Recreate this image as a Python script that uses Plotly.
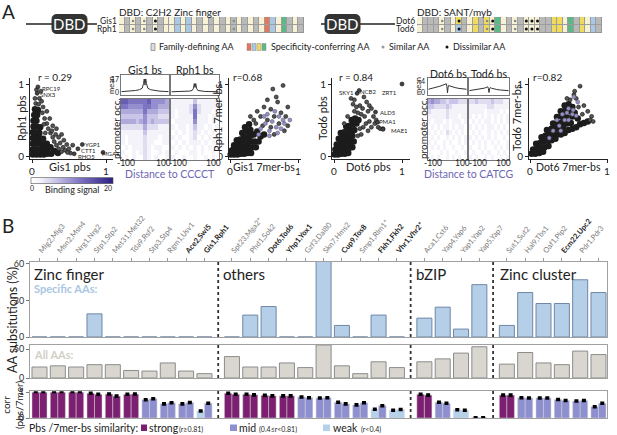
import plotly.graph_objects as go

W, H = 617, 435
FONT = "Lato"

# ======================= DATA =======================
# --- Panel A: DBD schematics (cell indices along alignment) ---
c2h2_n = 33
c2h2_grey = [1, 3, 5, 7, 14, 16, 18, 20, 22, 24, 30, 32]
c2h2_blue = [10, 12, 27]
c2h2_red = [26]
c2h2_yellow = []
c2h2_green = [29]
c2h2_similar = [2, 4, 20]
c2h2_dissimilar = [6]

sant_n = 33
sant_grey = [1, 2, 3, 5, 8, 11, 16, 18, 22, 23, 28, 32]
sant_blue = [31]
sant_red = []
sant_yellow = [7, 10, 12, 24, 25, 29]
sant_green = [14, 27]
sant_tod6_blue = [7]
sant_similar = [4, 12, 17]
sant_dissimilar = [7, 13, 19, 20, 21]

# --- Panel A: scatter plots (dense cores + scattered points) ---
a1_core_x = [0.01,0.06,0.11,0.16,0.21,0.26,0.01,0.06,0.11,0.16,0.21,0.30,0.01,0.05,0.10,0.15,0.20,0.01,0.05,0.10,0.15,0.01,0.05,0.10,0.02,0.06,0.11,0.02,0.06,0.03,0.07,0.04,0.08,0.35,0.25]
a1_core_y = [0.02,0.02,0.02,0.02,0.03,0.03,0.09,0.09,0.09,0.09,0.10,0.07,0.17,0.17,0.17,0.16,0.17,0.25,0.25,0.25,0.24,0.33,0.33,0.32,0.41,0.41,0.40,0.49,0.49,0.57,0.57,0.65,0.64,0.04,0.12]
a1_pts_x = [0.05,0.09,0.04,0.10,0.13,0.12,0.06,0.15,0.14,0.17,0.20,0.16,0.22,0.25,0.18,0.28,0.30,0.33,0.36,0.40,0.38,0.42,0.45,0.47,0.50,0.52,0.28,0.32,0.36,0.43,0.48,0.24,0.20,0.33,0.40,0.55,0.27]
a1_pts_y = [0.73,0.72,0.80,0.80,0.76,0.90,0.92,0.68,0.60,0.52,0.45,0.44,0.38,0.32,0.32,0.26,0.20,0.15,0.10,0.06,0.18,0.12,0.08,0.16,0.10,0.04,0.42,0.30,0.26,0.22,0.05,0.52,0.62,0.38,0.30,0.15,0.35]
a1_genes = ["RPC19", "SNX3", "YGP1", "CTT1", "RHO5", "MGA1"]
a1_gene_x = [0.08, 0.07, 0.68, 0.62, 0.57, 0.96]
a1_gene_y = [0.96, 0.87, 0.16, 0.10, 0.03, 0.05]

a2_core_x = [0.01,0.06,0.11,0.16,0.21,0.26,0.31,0.03,0.08,0.13,0.18,0.23,0.28,0.33,0.38,0.06,0.11,0.16,0.21,0.26,0.31,0.36,0.42,0.10,0.15,0.20,0.25,0.30,0.35,0.45,0.18,0.24,0.30,0.40,0.50,0.22,0.28]
a2_core_y = [0.02,0.02,0.02,0.03,0.03,0.04,0.04,0.08,0.08,0.09,0.10,0.10,0.11,0.12,0.12,0.15,0.15,0.16,0.17,0.18,0.20,0.20,0.20,0.22,0.23,0.25,0.26,0.28,0.30,0.27,0.32,0.34,0.36,0.34,0.30,0.40,0.44]
a2_pts_x = [0.78,0.63,0.55,0.70,0.50,0.60,0.40,0.45,0.75,0.82,0.65,0.35,0.55,0.72,0.85,0.60,0.38,0.48,0.80,0.65,0.30,0.68,0.85]
a2_pts_y = [0.98,0.93,0.78,0.75,0.68,0.65,0.62,0.55,0.60,0.55,0.55,0.50,0.50,0.45,0.42,0.40,0.45,0.42,0.35,0.30,0.55,0.82,0.68]
a2_lav_x = [0.45,0.52,0.58,0.62,0.68,0.75,0.80,0.72,0.55,0.42,0.50,0.66,0.78,0.58,0.88,0.70]
a2_lav_y = [0.38,0.45,0.35,0.48,0.40,0.38,0.45,0.55,0.58,0.30,0.55,0.62,0.50,0.28,0.50,0.32]

a3_core_x = [0.01,0.06,0.11,0.16,0.21,0.02,0.07,0.12,0.17,0.22,0.27,0.04,0.09,0.14,0.19,0.24,0.29,0.07,0.12,0.17,0.22,0.27,0.10,0.15,0.20,0.25,0.30,0.18,0.23,0.28,0.33,0.26,0.31,0.36]
a3_core_y = [0.02,0.02,0.03,0.03,0.04,0.09,0.09,0.10,0.10,0.11,0.12,0.16,0.17,0.17,0.18,0.19,0.20,0.24,0.25,0.25,0.26,0.28,0.32,0.33,0.33,0.35,0.36,0.41,0.42,0.44,0.45,0.50,0.52,0.50]
a3_pts_x = [0.35,0.30,0.40,0.42,0.38,0.33,0.28,0.45,0.50,0.52,0.48,0.55,0.58,0.47,0.52,0.43,0.38,0.60,0.65,0.68,0.62,0.25,0.30,0.44,0.20,0.15,0.40,0.35,0.55,0.72,0.50]
a3_pts_y = [0.60,0.62,0.58,0.66,0.70,0.68,0.72,0.55,0.62,0.70,0.75,0.66,0.55,0.45,0.48,0.40,0.38,0.45,0.40,0.38,0.50,0.80,0.78,0.82,0.55,0.45,0.30,0.28,0.40,0.38,0.35]
a3_genes = ["SKY1", "NCB2", "ZRT1", "ALD5", "PMA1", "MAE1"]
a3_gene_x = [0.34, 0.37, 1.00, 0.61, 0.64, 0.72]
a3_gene_y = [0.87, 0.91, 1.00, 0.61, 0.47, 0.37]

a4_core_x = [0.02,0.07,0.12,0.17,0.04,0.09,0.14,0.19,0.24,0.08,0.13,0.18,0.23,0.28,0.33,0.15,0.20,0.25,0.30,0.35,0.40,0.45,0.22,0.28,0.33,0.38,0.43,0.50,0.55,0.60,0.30,0.36,0.42,0.48,0.53,0.65,0.70,0.75,0.35,0.41,0.47,0.55,0.62,0.40,0.46,0.52,0.58,0.45,0.50,0.55]
a4_core_y = [0.03,0.03,0.04,0.06,0.09,0.10,0.10,0.12,0.14,0.17,0.18,0.20,0.22,0.22,0.24,0.26,0.28,0.30,0.30,0.30,0.30,0.32,0.36,0.38,0.38,0.38,0.40,0.36,0.38,0.40,0.45,0.46,0.47,0.45,0.46,0.44,0.46,0.48,0.54,0.55,0.54,0.55,0.52,0.62,0.63,0.62,0.60,0.70,0.72,0.68]
a4_pts_x = [0.65,0.57,0.60,0.52,0.70,0.75,0.80,0.78,0.82,0.68,0.63,0.48,0.58]
a4_pts_y = [0.97,0.85,0.80,0.78,0.70,0.62,0.55,0.50,0.48,0.58,0.68,0.80,0.90]
a4_lav_x = [0.30,0.38,0.45,0.50,0.55,0.42,0.35,0.60,0.62,0.50,0.48,0.25,0.40,0.56,0.57]
a4_lav_y = [0.35,0.42,0.50,0.50,0.58,0.58,0.50,0.56,0.75,0.66,0.60,0.25,0.35,0.64,0.82]

# --- Panel A: mean binding profiles and occupancy heatmaps ---
dist_prof = [-125, -100, -75, -50, -30, -15, -8, -4, 0, 4, 8, 15, 30, 50, 75, 100, 125]
gis1_mean = [0.5, 0.8, 1.2, 2, 3, 5, 11, 17, 9, 17, 11, 5, 3, 2, 1.2, 0.8, 0.5]
rph1_mean = [0.3, 0.4, 0.6, 0.8, 1.2, 2, 5, 11, 6, 11, 5, 2, 1.2, 0.8, 0.6, 0.4, 0.3]
dot6_mean = [1.0, 1.3, 1.7, 2.1, 2.5, 2.8, 3.0, 2.0, -0.3, 1.8, 2.4, 2.2, 1.9, 1.6, 1.3, 1.1, 1.0]
tod6_mean = [0.5, 0.7, 0.9, 1.1, 1.4, 1.7, 1.9, 1.3, -0.2, 1.2, 1.6, 1.4, 1.1, 0.9, 0.7, 0.6, 0.5]

heat_cols = [-120, -100, -80, -60, -40, -20, 0, 20, 40, 60, 80, 100, 120]
gis1_heat_rows = ["7766666755554", "6655556655444", "4444446444333", "3333335333222",
                  "4444345343333", "2222224222111", "1111113111111", "1011112111011",
                  "1011112110011", "0101112101100", "1001012100101", "0101002101001"]
rph1_heat_rows = ["1111113111111", "1111125211111", "1011126211101", "1011116111011",
                  "0111115111010", "1011013110101", "0101012101010", "1010012010101",
                  "0101011101010", "1010101010101", "0100011010010", "1001001001010"]
dot6_heat_rows = ["4544332333222", "3322223211111", "2111112111111", "1111112111011",
                  "1011101011101", "0101011010110", "1010102101010", "0101001010101",
                  "1010010100101", "0101010010010", "1000101001001", "0101001010100"]
tod6_heat_rows = ["2232222322211", "1111112211111", "1111101111010", "1010101010101",
                  "0101011010101", "1010101101010", "0101001010101", "1010101010010",
                  "0101010101001", "1001010010101", "0100101001010", "1010010100101"]

# --- Panel B ---
tf_pairs = ["Mig2,Mig3", "Msn2,Msn4", "Nrg1,Nrg2", "Stp1,Stp2", "Met31,Met32", "Tda9,Rsf2",
            "Stp3,Stp4", "Rgm1,Usv1", "Ace2,Swi5", "Gis1,Rph1",
            "Spt23,Mga2*", "Phd1,Sok2", "Dot6,Tod6", "Yhp1,Yox1", "Gzf3,Dal80", "Skn7,Hms2",
            "Cup9,Tos8", "Smp1,Rlm1*", "Fkh1,Fkh2", "Vhr1,Vhr2*",
            "Aca1,Cst6", "Yap4,Yap6", "Yap1,Yap2", "Yap5,Yap7",
            "Sut1,Sut2", "Hal9,Tbs1", "Oaf1,Pip2", "Ecm22,Upc2", "Pdr1,Pdr3", "Pdr8,Yrr1"]
tf_bold = ["Ace2,Swi5", "Gis1,Rph1", "Dot6,Tod6", "Yhp1,Yox1", "Cup9,Tos8", "Fkh1,Fkh2",
           "Vhr1,Vhr2*", "Ecm22,Upc2", "Pdr8,Yrr1"]
families = ["Zinc finger", "others", "bZIP", "Zinc cluster"]
family_sizes = [10, 10, 4, 6]
specific_aa = [0, 0, 0, 19, 0, 0, 0, 0, 0, 0,
               0, 18, 25, 0, 0, 62, 9.5, 0, 18, 0,
               15.5, 24.5, 6.5, 43,
               9.5, 36.5, 27.5, 27.5, 47, 36.5]
all_aa = [19, 21, 19, 23, 23, 13, 12, 26, 12, 7.5,
          37, 19, 19, 26, 18, 57, 21, 7.5, 28, 18,
          28, 33, 43, 54,
          24, 44, 26, 23, 46.5, 40.5]
corr_pbs = [1.0, 1.0, 1.0, 0.96, 0.93, 0.92, 0.71, 0.55, 0.55, 0.27,
            0.96, 0.92, 0.88, 0.86, 0.82, 0.78, 0.61, 0.51, 0.34, 0.30,
            0.92, 0.61, 0.32, 0.02,
            0.89, 0.79, 0.78, 0.72, 0.66, 0.44]
corr_7mer = [1.0, 1.0, 1.0, 0.92, 0.85, 0.93, 0.75, 0.59, 0.60, 0.57,
             0.92, 0.90, 0.86, 0.86, 0.79, 0.79, 0.55, 0.59, 0.48, 0.33,
             0.89, 0.57, 0.30, 0.02,
             0.89, 0.78, 0.78, 0.68, 0.68, 0.57]
corr_err = [0, 0, 0, 0.03, 0.03, 0.03, 0.03, 0.03, 0.03, 0.03,
            0.03, 0.03, 0.03, 0.03, 0.03, 0.03, 0.03, 0.03, 0.03, 0.03,
            0.03, 0.03, 0.03, 0.02,
            0.03, 0.03, 0.03, 0.03, 0.03, 0.03]
sim_pbs = list("ssssssmmmw" + "ssssmmmmww" + "smwm" + "smmmmm")
sim_7mer = list("ssssssmmmm" + "ssssmmmmmw" + "smwm" + "smmmmm")

# ======================= FIGURE =======================
fig = go.Figure()
layout = {}
ann = []
shapes = []


def X(p):
    return p / W


def Y(p):
    return 1 - p / H


def lin(L, R, p0, v0, p1, v1):
    s = (v1 - v0) / (p1 - p0)
    return [v0 + (L - p0) * s, v0 + (R - p0) * s]


def axis_pair(n, xpx, ypx, xr, yr, xkw=None, ykw=None):
    s = '' if n == 1 else str(n)
    base = dict(showgrid=False, zeroline=False, showticklabels=False, ticks='',
                showline=False, fixedrange=True, automargin=False)
    xa = dict(base, domain=[X(xpx[0]), X(xpx[1])], range=xr, anchor='y' + s)
    ya = dict(base, domain=[Y(ypx[1]), Y(ypx[0])], range=yr, anchor='x' + s)
    if xkw:
        xa.update(xkw)
    if ykw:
        ya.update(ykw)
    layout['xaxis' + s] = xa
    layout['yaxis' + s] = ya
    return 'x' + s, 'y' + s


def text(x, y, s, size=10, color='#222', xa='center', ya='middle', angle=0, bold=False):
    if bold:
        s = '<b>' + s + '</b>'
    ann.append(dict(x=X(x), y=Y(y), xref='paper', yref='paper', text=s, showarrow=False,
                    font=dict(size=size, color=color, family=FONT), xanchor=xa, yanchor=ya,
                    textangle=angle, borderpad=0))


def rect(x0, y0, x1, y1, fill, line=None, lw=0):
    shapes.append(dict(type='rect', xref='paper', yref='paper', x0=X(x0), x1=X(x1),
                       y0=Y(y1), y1=Y(y0), fillcolor=fill,
                       line=dict(color=line or fill, width=lw)))


def hline(x0, x1, y, color='#222', width=1.3):
    shapes.append(dict(type='line', xref='paper', yref='paper', x0=X(x0), x1=X(x1),
                       y0=Y(y), y1=Y(y), line=dict(color=color, width=width)))


def rrect(x0, y0, x1, y1, r, fill):
    rx, ry = r / W, r / H
    a, b, c, d = X(x0), X(x1), Y(y1), Y(y0)
    path = (f"M {a+rx},{d} L {b-rx},{d} Q {b},{d} {b},{d-ry} L {b},{c+ry} Q {b},{c} {b-rx},{c} "
            f"L {a+rx},{c} Q {a},{c} {a},{c+ry} L {a},{d-ry} Q {a},{d} {a+rx},{d} Z")
    shapes.append(dict(type='path', xref='paper', yref='paper', path=path, fillcolor=fill,
                       line=dict(color=fill, width=1)))


# ---------- Panel A: schematics ----------
cell_colors = ['#f7f2d5', '#b9b9b9', '#a9c8e6', '#e8765b', '#efdc5a', '#5db889']
cs_cells = []
for i, c in enumerate(cell_colors):
    cs_cells += [[i / len(cell_colors), c], [(i + 1) / len(cell_colors), c]]


def schem_row(n, grey, blue, red, yellow, green):
    row = [0] * n
    for code, idx in [(1, grey), (2, blue), (3, red), (4, yellow), (5, green)]:
        for i in idx:
            row[i] = code
    return row


def schematic(n_ax, xpx, n, grey, blue, red, yellow, green, similar, dissimilar,
              bottom_override=None, name_top='', name_bot='', title='', x_line0=0, x_box=(0, 0),
              x_line1=0):
    top = schem_row(n, grey, blue, red, yellow, green)
    bot = list(top)
    if bottom_override:
        for i in bottom_override:
            bot[i] = 2
    xa, ya = axis_pair(n_ax, xpx, (17, 33), [-0.5, n - 0.5], [-0.5, 1.5])
    shapes.append(dict(type='rect', xref=xa, yref=ya, x0=-0.5, x1=n - 0.5, y0=-0.5, y1=1.5,
                       fillcolor='#9d9d9d', line=dict(color='#8a8a8a', width=0.8), layer='below'))
    fig.add_trace(go.Heatmap(z=[bot, top], x=list(range(n)), y=[0, 1], colorscale=cs_cells,
                             zmin=-0.5, zmax=len(cell_colors) - 0.5, showscale=False, xgap=1,
                             ygap=1, xaxis=xa, yaxis=ya, hoverinfo='skip'))
    fig.add_trace(go.Scatter(x=similar * 2, y=[0] * len(similar) + [1] * len(similar),
                             mode='markers', marker=dict(size=2.6, color='#8a8a8a'),
                             xaxis=xa, yaxis=ya, hoverinfo='skip'))
    fig.add_trace(go.Scatter(x=dissimilar * 2, y=[0] * len(dissimilar) + [1] * len(dissimilar),
                             mode='markers', marker=dict(size=3, color='#111'),
                             xaxis=xa, yaxis=ya, hoverinfo='skip'))
    text(xpx[0] - 1, 12, title, size=10, xa='left')
    text(xpx[0] - 1, 20.5, name_top, size=8.5, xa='right')
    text(xpx[0] - 1, 29, name_bot, size=8.5, xa='right')
    hline(x_line0, x_line1, 24)
    rrect(x_box[0], 14.5, x_box[1], 33.5, 5, '#333333')
    text((x_box[0] + x_box[1]) / 2, 24.5, 'DBD', size=15, color='white')


schematic(4, (119, 304), c2h2_n, c2h2_grey, c2h2_blue, c2h2_red, c2h2_yellow, c2h2_green,
          c2h2_similar, c2h2_dissimilar, None, 'Gis1', 'Rph1', 'DBD: C2H2 Zinc finger',
          26, (52, 87), 97)
schematic(5, (417, 602), sant_n, sant_grey, sant_blue, sant_red, sant_yellow, sant_green,
          sant_similar, sant_dissimilar, sant_tod6_blue, 'Dot6', 'Tod6', 'DBD: SANT/myb',
          321, (325, 360), 395)

# legend of schematic
rect(151, 43.5, 155, 50.5, '#dddddd', '#888', 0.8)
text(158, 47, 'Family-defining AA', size=9, xa='left')
for k, c in enumerate(['#e8765b', '#a9c8e6', '#efdc5a', '#5db889']):
    rect(247 + 5 * k, 43.5, 251 + 5 * k, 50.5, c, '#888', 0.5)
text(270, 47, 'Specificity-conferring AA', size=9, xa='left')
shapes.append(dict(type='circle', xref='paper', yref='paper', x0=X(381.5), x1=X(384.5),
                   y0=Y(48.5), y1=Y(45.5), fillcolor='#9a9a9a', line=dict(width=0)))
text(388, 47, 'Similar AA', size=9, xa='left')
shapes.append(dict(type='circle', xref='paper', yref='paper', x0=X(445.5), x1=X(448.5),
                   y0=Y(48.5), y1=Y(45.5), fillcolor='#111', line=dict(width=0)))
text(452, 47, 'Dissimilar AA', size=9, xa='left')
text(1, 11, 'A', size=19, xa='left')

# ---------- Panel A: scatters ----------
sc_axis = dict(showline=True, linecolor='#222', linewidth=1, ticks='outside', ticklen=3,
               tickcolor='#222', tickvals=[0, 1], showticklabels=True,
               tickfont=dict(size=10, family=FONT, color='#222'))


def scatter_panel(n, xpx, x0p, x1p, core, pts, lav=None, genes=None):
    xr = lin(xpx[0], xpx[1], x0p, 0, x1p, 1)
    yr = lin(159, 78, 156, 0, 84, 1)
    xa, ya = axis_pair(n, xpx, (78, 159), xr, yr, sc_axis, sc_axis)
    fig.add_trace(go.Scatter(x=core[0], y=core[1], mode='markers',
                             marker=dict(size=6.5, color='#1c1c1c'), xaxis=xa, yaxis=ya,
                             hoverinfo='skip', cliponaxis=False))
    fig.add_trace(go.Scatter(x=pts[0], y=pts[1], mode='markers',
                             marker=dict(size=4, color='#555', line=dict(color='#111', width=0.6)),
                             xaxis=xa, yaxis=ya, hoverinfo='skip', cliponaxis=False))
    if lav:
        fig.add_trace(go.Scatter(x=lav[0], y=lav[1], mode='markers',
                                 marker=dict(size=4, color='#9490d0',
                                             line=dict(color='#555', width=0.5)),
                                 xaxis=xa, yaxis=ya, hoverinfo='skip', cliponaxis=False))
    if genes:
        fig.add_trace(go.Scatter(x=genes[1], y=genes[2], mode='markers',
                                 marker=dict(size=4, color='#444', line=dict(color='#111', width=0.6)),
                                 xaxis=xa, yaxis=ya, hoverinfo='skip', cliponaxis=False))


scatter_panel(6, (30, 113), 32, 106, (a1_core_x, a1_core_y), (a1_pts_x, a1_pts_y),
              genes=(a1_genes, a1_gene_x, a1_gene_y))
scatter_panel(7, (229, 301), 230, 298, (a2_core_x, a2_core_y), (a2_pts_x, a2_pts_y),
              lav=(a2_lav_x, a2_lav_y))
scatter_panel(8, (332, 410), 334, 402, (a3_core_x, a3_core_y), (a3_pts_x, a3_pts_y),
              genes=(a3_genes, a3_gene_x, a3_gene_y))
scatter_panel(9, (529, 608), 530, 607, (a4_core_x, a4_core_y), (a4_pts_x, a4_pts_y),
              lav=(a4_lav_x, a4_lav_y))

text(37, 77.5, 'r = 0.29', size=10, xa='left')
text(21, 118, 'Rph1 pbs', size=11, angle=-90)
text(70, 167, 'Gis1 pbs', size=11)
text(232, 77.5, 'r=0.68', size=10, xa='left')
text(217, 118, 'Rph1 7mer-bs', size=11, angle=-90)
text(264, 167, 'Gis1 7mer-bs', size=10.5)
text(338, 77.5, 'r = 0.84', size=10, xa='left')
text(322, 118, 'Tod6 pbs', size=11, angle=-90)
text(368, 167, 'Dot6 pbs', size=11)
text(532, 77.5, 'r=0.82', size=10, xa='left')
text(516, 118, 'Tod6 7mer-bs', size=11, angle=-90)
text(568, 167, 'Dot6 7mer-bs', size=10.5)

# gene labels
text(41, 88, 'RPC19', size=6, xa='left')
text(39, 94.5, 'SNX3', size=6, xa='left')
text(84, 144, 'YGP1', size=6, xa='left')
text(80, 150, 'CTT1', size=6, xa='left')
text(77, 156, 'RHO5', size=6, xa='left')
text(101, 153, 'MGA1', size=6, xa='left')
text(355, 92, 'SKY1', size=6, xa='right')
text(359, 91, 'NCB2', size=6, xa='left')
text(398, 92, 'ZRT1', size=6, xa='right')
text(379, 113, 'ALD5', size=6, xa='left')
text(378, 122, 'PMA1', size=6, xa='left')
text(390, 130, 'MAE1', size=6, xa='left')

# ---------- Panel A: mean profiles & heatmaps ----------
heat_cs = [[0, '#ffffff'], [0.12, '#f2f1f9'], [0.3, '#c9c5e8'], [0.6, '#7d74c2'], [1, '#2d1d84']]
frame = dict(showline=True, mirror=True, linecolor='#777', linewidth=0.8)


def heat_block(n_mean, n_heat, xpx, mean_y, yr, prof, rows, show_scale=False):
    xa, ya = axis_pair(n_mean, xpx, mean_y, [-128, 128], yr, frame, frame)
    fig.add_trace(go.Scatter(x=dist_prof, y=prof, mode='lines', line=dict(color='#333', width=1),
                             xaxis=xa, yaxis=ya, hoverinfo='skip'))
    xa2, ya2 = axis_pair(n_heat, xpx, (99, 160), [-130, 130], [11.5, -0.5], frame, frame)
    z = [[int(c) * 2 for c in r] for r in rows]
    tr = go.Heatmap(z=z, x=heat_cols, y=list(range(len(rows))), colorscale=heat_cs, zmin=0,
                    zmax=20, xaxis=xa2, yaxis=ya2, hoverinfo='skip', showscale=show_scale)
    if show_scale:
        tr.colorbar = dict(orientation='h', x=X(72), xanchor='center', y=Y(181), yanchor='middle',
                           len=82 / W, lenmode='fraction', thickness=6, showticklabels=False,
                           ticks='', outlinewidth=0.6, outlinecolor='#555', xpad=0, ypad=0)
    fig.add_trace(tr)


heat_block(10, 12, (121, 169), (75, 95), [-3.9, 22.2], gis1_mean, gis1_heat_rows, True)
heat_block(11, 13, (171, 219), (75, 95), [-3.9, 22.2], rph1_mean, rph1_heat_rows)
heat_block(14, 16, (428, 467), (78, 95), [-1.1, 5.1], dot6_mean, dot6_heat_rows)
heat_block(15, 17, (469, 509), (78, 95), [-1.1, 5.1], tod6_mean, tod6_heat_rows)

text(145, 70, 'Gis1 bs', size=10.5)
text(195, 70, 'Rph1 bs', size=10.5)
text(112, 85, 'mean', size=7.5, angle=-90)
text(120, 79, '17', size=7, xa='right')
text(120, 92, '0', size=7, xa='right')
text(116, 129, 'promoter occ.', size=10, angle=-90)
for xp, s in [(126, '-100'), (163, '100'), (178, '-100'), (213, '100')]:
    text(xp, 163, s, size=8.5)
text(170, 174, 'Distance to CCCCT', size=10.5, color='#6d66b3')

text(448, 74, 'Dot6 bs', size=10.5)
text(489, 74, 'Tod6 bs', size=10.5)
text(418, 86, 'mean', size=7.5, angle=-90)
text(426, 81, '4', size=7, xa='right')
text(426, 92, '0', size=7, xa='right')
text(423, 129, 'promoter occ.', size=10, angle=-90)
for xp, s in [(433, '-100'), (462, '100'), (478, '-100'), (503, '100')]:
    text(xp, 163, s, size=8.5)
text(468, 174, 'Distance to CATCG', size=10.5, color='#6d66b3')

text(32, 188, '0', size=7)
text(72, 189, 'Binding signal', size=9)
text(108, 188, '20', size=7)

# ---------- Panel B ----------
groups = []
for g, nsz in enumerate(family_sizes):
    groups += [g] * nsz
xpos = [i + 0.5 * g for i, g in enumerate(groups)]
xr_b = lin(30, 607, 39.5, 0, 598.5, 30.5)
ticktext = [("<b><span style='color:#222'>%s</span></b>" % t) if t in tf_bold else t
            for t in tf_pairs]

bframe = dict(showline=True, mirror=True, linecolor='#a0a0a0', linewidth=1)
yb = dict(bframe, ticks='outside', ticklen=3, tickcolor='#777', showticklabels=True,
          tickfont=dict(size=9, family=FONT, color='#333'))
xa1, ya1 = axis_pair(1, (30, 607), (262, 337), xr_b, [0, 61.6],
                     dict(bframe, side='top', tickvals=xpos, ticktext=ticktext, tickangle=-50,
                          ticks='outside', ticklen=3, tickcolor='#999', showticklabels=True,
                          tickfont=dict(size=7.5, family=FONT, color='#7a7a7a')),
                     dict(yb, tickvals=[0, 30, 60]))
xa2, ya2 = axis_pair(2, (30, 607), (345, 378), xr_b, [0, 57], dict(bframe),
                     dict(yb, tickvals=[0, 50]))
xa3, ya3 = axis_pair(3, (30, 607), (391, 418), xr_b, [0, 1.05], dict(bframe),
                     dict(yb, tickvals=[0, 1]))

fig.add_trace(go.Bar(x=xpos, y=specific_aa, width=0.82,
                     marker=dict(color='#b4cfe7', line=dict(color='#6f87a6', width=1)),
                     xaxis=xa1, yaxis=ya1, hoverinfo='skip'))
fig.add_trace(go.Bar(x=xpos, y=all_aa, width=0.82,
                     marker=dict(color='#d8d6ce', line=dict(color='#8c8c8c', width=1)),
                     xaxis=xa2, yaxis=ya2, hoverinfo='skip'))
simcol = {'s': '#7d1f70', 'm': '#8e8fcf', 'w': '#b5d1ea'}
half = 0.41
fig.add_trace(go.Bar(x=[p - half / 2 for p in xpos], y=corr_pbs, width=half,
                     marker=dict(color=[simcol[s] for s in sim_pbs], line=dict(color='#d0d0dd', width=0.5)),
                     error_y=dict(type='data', array=corr_err, color='#000', thickness=2, width=2),
                     xaxis=xa3, yaxis=ya3, hoverinfo='skip'))
fig.add_trace(go.Bar(x=[p + half / 2 for p in xpos], y=corr_7mer, width=half,
                     marker=dict(color=[simcol[s] for s in sim_7mer], line=dict(color='#d0d0dd', width=0.5)),
                     error_y=dict(type='data', array=corr_err, color='#000', thickness=2, width=2),
                     xaxis=xa3, yaxis=ya3, hoverinfo='skip'))

# dashed family dividers
cum = 0
for g, nsz in enumerate(family_sizes[:-1]):
    cum += nsz
    xd = (xpos[cum - 1] + xpos[cum]) / 2
    for yref in ['y domain', 'y2 domain', 'y3 domain']:
        shapes.append(dict(type='line', xref='x', yref=yref, x0=xd, x1=xd, y0=0, y1=1,
                           line=dict(color='#333', width=1.8, dash='dot')))

text(1, 225, 'B', size=19, xa='left')
fam_x = [33, 222, 415, 499]
for fx, fn in zip(fam_x, families):
    text(fx, 274, fn, size=15, xa='left')
text(33, 288, 'Specific AAs:', size=11, color='#a9c6e2', xa='left', bold=True)
text(33, 354, 'All AAs:', size=11, color='#d2d0c6', xa='left', bold=True)
text(12, 320, 'AA subsitutions (%)', size=12.5, angle=-90)
text(12, 405, 'corr<br>(pbs/7mer)', size=10, angle=-90)

# legend
text(28, 428, 'Pbs /7mer-bs similarity:', size=10.5, xa='left')
rect(141, 424.5, 147, 431, simcol['s'])
text(148, 428, 'strong', size=10.5, xa='left')
text(178, 429, '(r≥0.81)', size=7, xa='left')
rect(230, 424.5, 237, 431, simcol['m'])
text(238, 428, 'mid', size=10.5, xa='left')
text(258, 429, '(0.4≤r<0.81)', size=7, xa='left')
rect(323, 424.5, 330, 431, simcol['w'])
text(332, 428, 'weak', size=10.5, xa='left')
text(360, 429, '(r<0.4)', size=7, xa='left')

layout.update(dict(width=W, height=H, margin=dict(l=0, r=0, t=0, b=0, autoexpand=False),
                   paper_bgcolor='white', plot_bgcolor='white', showlegend=False,
                   barmode='overlay', template='none',
                   annotations=ann, shapes=shapes, font=dict(family=FONT, color='#222')))
fig.update_layout(**layout)
fig.write_html("out.html", config={'displayModeBar': False},
               post_script="document.body.style.margin='0';document.body.style.overflow='hidden';")
